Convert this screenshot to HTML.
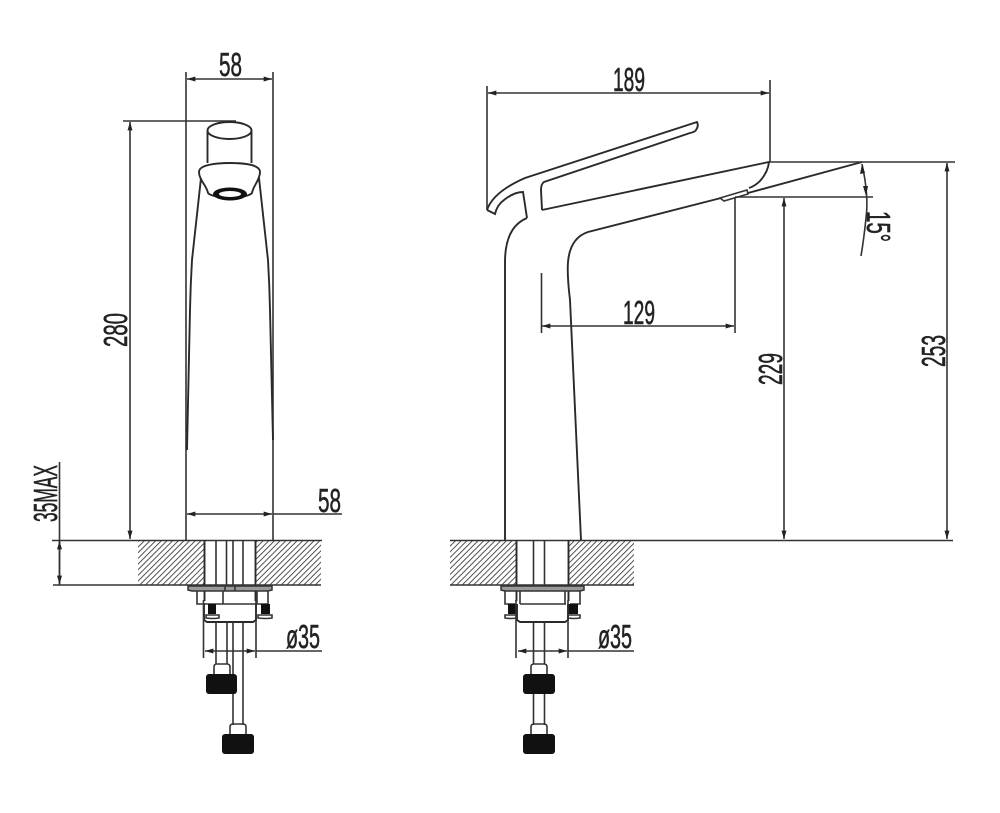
<!DOCTYPE html>
<html>
<head>
<meta charset="utf-8">
<style>
html,body{margin:0;padding:0;background:#fff;width:1000px;height:813px;overflow:hidden}
svg{display:block;filter:blur(.35px)}
text{font-family:"Liberation Sans",sans-serif;font-size:33px;fill:#222;stroke:#222;stroke-width:.55}
.l{fill:none;stroke:#333;stroke-width:1.6}
.t{fill:none;stroke:#2a2a2a;stroke-width:1.9}
.k{fill:#111;stroke:none}
</style>
</head>
<body>
<svg width="1000" height="813" viewBox="0 0 1000 813" xmlns="http://www.w3.org/2000/svg">
<defs>
<pattern id="h" width="4" height="4" patternUnits="userSpaceOnUse" patternTransform="rotate(45)">
<rect width="4" height="4" fill="#fff"/>
<line x1="0" y1="0" x2="0" y2="4" stroke="#333" stroke-width="1.700"/>
</pattern>
<marker id="a" viewBox="0 0 10 6" refX="10" refY="3" markerWidth="9" markerHeight="5" markerUnits="userSpaceOnUse" orient="auto-start-reverse">
<path d="M0 0L10 3L0 6Z" fill="#222"/>
</marker>
</defs>

<!-- hatching -->
<rect x="138" y="540" width="66" height="45" fill="url(#h)"/>
<rect x="256" y="540" width="65" height="45" fill="url(#h)"/>
<rect x="450" y="540" width="66" height="45" fill="url(#h)"/>
<rect x="569" y="540" width="65" height="45" fill="url(#h)"/>

<!-- LEFT VIEW -->
<path class="l" d="M186 72V540M273 72V540"/>
<line class="l" x1="187" y1="79" x2="272" y2="79" marker-start="url(#a)" marker-end="url(#a)"/>
<path class="l" d="M123 121H236"/>
<line class="l" x1="130" y1="122" x2="130" y2="539" marker-start="url(#a)" marker-end="url(#a)"/>
<path class="l" d="M59.500 462V585"/>
<line class="l" x1="59.500" y1="541" x2="59.500" y2="584" marker-start="url(#a)" marker-end="url(#a)"/>
<path class="l" d="M52 540.500H322M53 585H321"/>
<line class="l" x1="187" y1="514" x2="272" y2="514" marker-start="url(#a)" marker-end="url(#a)"/>
<path class="l" d="M273 514H342"/>

<!-- handle -->
<ellipse class="t" cx="229.500" cy="130.500" rx="22" ry="8.500"/>
<path class="t" d="M207.500 131V163M251.500 131V163"/>
<path class="t" d="M199 172C199 165 215 163 230 163S260 165 260 172C260 180 253 186 252 193C247 199 213 199 208 193C207 186 199 180 199 172Z"/>
<ellipse cx="230" cy="194" rx="17" ry="6.500" fill="#111"/>
<ellipse cx="230" cy="194" rx="11" ry="3" fill="#fff"/>
<!-- body -->
<path class="t" d="M201 178L192 260Q190.500 285 190 310L187 450"/>
<path class="t" d="M259 178L268 260Q269.500 285 270 310L273 440"/>

<!-- plumbing left -->
<path class="t" d="M204.500 540V601M255.500 540V601"/>
<path class="l" d="M216 540V585M226.500 540V585M233 540V585M243 540V585"/>
<path fill="#999" stroke="#333" stroke-width="1.500" d="M188 586H272V590L268 591H192L188 590Z"/>
<path class="l" d="M225 586V591M235 586V591"/>
<path class="l" d="M197 591V604H204M223 591V604M257 591V604H268V591"/>
<path class="l" d="M204 604H256"/>
<path class="t" d="M204 604V620L207 622H253L256 620V604"/>
<rect class="k" x="208" y="604" width="8" height="10"/>
<rect class="k" x="261" y="604" width="9" height="10"/>
<path class="l" d="M206 615H219V618Q213 619 206 618ZM258 615H272V618Q266 619 258 618Z"/>
<path class="l" d="M203.500 600V658M256 600V658"/>
<line class="l" x1="205" y1="651" x2="255" y2="651" marker-start="url(#a)" marker-end="url(#a)"/>
<path class="l" d="M256 651H322"/>
<path class="l" d="M216 622V664M227 622V664M233 622V725M243 622V725"/>
<path class="l" d="M214 674V667Q214 664 217 664H227Q230 664 230 667V674"/>
<rect class="k" x="206" y="674" width="31" height="20" rx="3"/>
<path class="l" d="M230 734V727Q230 724 233 724H243Q246 724 246 727V734"/>
<rect class="k" x="222" y="734" width="32" height="20" rx="3"/>

<!-- RIGHT VIEW -->
<path class="l" d="M487 86V210M770 80V162"/>
<line class="l" x1="488" y1="93" x2="769" y2="93" marker-start="url(#a)" marker-end="url(#a)"/>
<!-- lever -->
<path class="t" d="M487 210L495 214Q497 205 504 200Q514 192 523 192L527 218"/>
<path class="t" d="M487 210Q493 192 525 178L697 122Q699 126 696 130Q695 132 690 133L544 182Q541 184 541 190L542 210"/>
<!-- spout and body -->
<path class="t" d="M527 218Q505 227 505 262V540"/>
<path class="t" d="M542 210L769 162Q768 172 760 181Q755 186 749 188"/>
<path class="t" d="M721 198L588 232Q570 238 568 262Q567 275 570 300L581 540"/>
<path class="l" d="M720 198L747 190L748 194L724 201Z"/>
<path class="t" d="M748 193L862 162"/>
<path class="l" d="M769 162H955M735 197H873M735 197V333"/>
<path class="l" d="M541.500 273V333"/>
<line class="l" x1="542" y1="326" x2="734" y2="326" marker-start="url(#a)" marker-end="url(#a)"/>
<line class="l" x1="784" y1="198" x2="784" y2="539" marker-start="url(#a)" marker-end="url(#a)"/>
<line class="l" x1="947" y1="163" x2="947" y2="539" marker-start="url(#a)" marker-end="url(#a)"/>
<path class="l" d="M862 164Q869 196 866 218Q864 238 861 256"/>
<path d="M862 164L860 174L865 173Z M866 196L863 186L868 186Z" fill="#222"/>
<path class="l" d="M450 540.500H953M450 585H634"/>

<!-- plumbing right -->
<path class="t" d="M516.500 540V601M568.500 540V601"/>
<path class="l" d="M533.500 540V585M544.500 540V585"/>
<path fill="#999" stroke="#333" stroke-width="1.500" d="M501 586H584V590L580 591H505L501 590Z"/>
<path class="l" d="M505 591V604H515M520 591V604M565 591V604M580 591V604H570"/>
<path class="l" d="M520 604H566"/>
<path class="t" d="M517 604V620L520 622H565L568 620V604"/>
<rect class="k" x="508" y="604" width="9" height="10"/>
<rect class="k" x="568" y="604" width="10" height="10"/>
<path class="l" d="M505 615H517V618Q511 619 505 618ZM568 615H580V618Q574 619 568 618Z"/>
<path class="l" d="M516 600V658M568 600V658"/>
<line class="l" x1="518" y1="651" x2="567" y2="651" marker-start="url(#a)" marker-end="url(#a)"/>
<path class="l" d="M568 651H634"/>
<path class="l" d="M533.500 622V664M544.500 622V664M533.500 694V725M544.500 694V725"/>
<path class="l" d="M531 674V667Q531 664 534 664H544Q547 664 547 667V674"/>
<rect class="k" x="523" y="674" width="32" height="20" rx="3"/>
<path class="l" d="M531 734V727Q531 724 534 724H544Q547 724 547 727V734"/>
<rect class="k" x="523" y="734" width="32" height="20" rx="3"/>

<!-- labels -->
<text x="219" y="76" textLength="23" lengthAdjust="spacingAndGlyphs">58</text>
<text x="318" y="512" textLength="23" lengthAdjust="spacingAndGlyphs">58</text>
<text x="613" y="91" textLength="32" lengthAdjust="spacingAndGlyphs">189</text>
<text x="623" y="324" textLength="32" lengthAdjust="spacingAndGlyphs">129</text>
<text x="286" y="648" textLength="34" lengthAdjust="spacingAndGlyphs">ø35</text>
<text x="598" y="648" textLength="34" lengthAdjust="spacingAndGlyphs">ø35</text>
<text transform="translate(127 347) rotate(-90)" textLength="34" lengthAdjust="spacingAndGlyphs">280</text>
<text transform="translate(57 522) rotate(-90)" textLength="57" lengthAdjust="spacingAndGlyphs">35MAX</text>
<text transform="translate(782 385) rotate(-90)" textLength="32" lengthAdjust="spacingAndGlyphs">229</text>
<text transform="translate(945 367) rotate(-90)" textLength="32" lengthAdjust="spacingAndGlyphs">253</text>
<text transform="translate(867 211) rotate(90)" textLength="31" lengthAdjust="spacingAndGlyphs">15°</text>
</svg>
</body>
</html>
